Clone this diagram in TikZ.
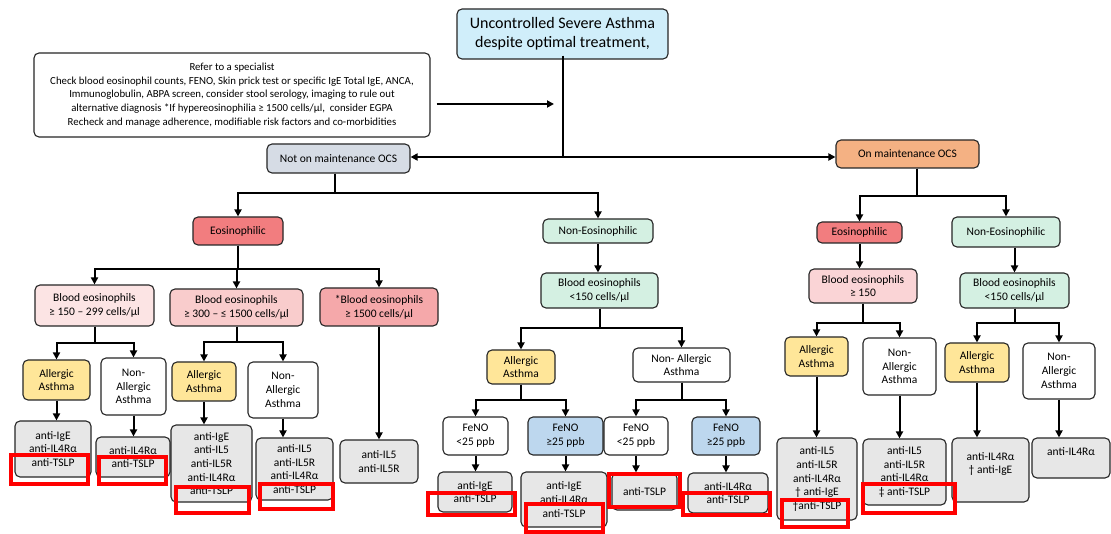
\documentclass[tikz,border=0pt]{standalone}
\usepackage{fontspec}
\setmainfont{Carlito}
\usetikzlibrary{arrows.meta}

\definecolor{topcyan}{RGB}{208,238,250}
\definecolor{ocsgray}{RGB}{214,220,229}
\definecolor{ocsorange}{RGB}{244,177,131}
\definecolor{eosred}{RGB}{242,125,127}
\definecolor{mint}{RGB}{212,240,226}
\definecolor{pinkA}{RGB}{252,228,228}
\definecolor{pinkB}{RGB}{249,204,204}
\definecolor{pinkC}{RGB}{245,168,170}
\definecolor{pinkD}{RGB}{250,212,214}
\definecolor{allergy}{RGB}{255,230,153}
\definecolor{fenoblue}{RGB}{189,215,238}
\definecolor{druggray}{RGB}{231,231,231}

% box given by its corners: name, style, x1, y1, x2, y2, text
\newcommand\bx[7]{%
  \pgfmathsetmacro\bxcx{(#3+#5)/2}%
  \pgfmathsetmacro\bxcy{(#4+#6)/2}%
  \pgfmathsetmacro\bxw{#5-#3}%
  \pgfmathsetmacro\bxh{#6-#4}%
  \node[#2, minimum width=\bxw pt, minimum height=\bxh pt] (#1) at (\bxcx,\bxcy) {#7};}

\tikzset{
  box/.style={draw=black!85, line width=1.1pt, rounded corners=5pt, align=center,
    inner sep=1pt, font=\fontsize{11.5}{13.7}\selectfont},
  whitebox/.style={box, fill=white},
  allergic/.style={box, fill=allergy},
  drug/.style={box, fill=druggray},
  ln/.style={line width=2pt, black},
  arr/.style={ln, -{Triangle[length=7pt,width=7pt]}},
  hl/.style={draw=red, line width=4pt},
}

\begin{document}
\begin{tikzpicture}[x=1pt, y=-1pt]
\fill[white] (0,0) rectangle (1111,534);
\useasboundingbox (0,0) rectangle (1111,534);

% ---- top level ----
\bx{top}{box, fill=topcyan, font=\fontsize{16}{19}\selectfont}{457}{9}{668}{59}
  {Uncontrolled Severe Asthma\\despite optimal treatment,}
\bx{refer}{whitebox, font=\fontsize{10.8}{13.6}\selectfont}{34}{53}{430}{137}
  {Refer to a specialist\\
   Check blood eosinophil counts, FENO, Skin prick test or specific IgE Total IgE, ANCA,\\
   Immunoglobulin, ABPA screen, consider stool serology, imaging to rule out\\
   alternative diagnosis *If hypereosinophilia ≥ 1500 cells/µl,\ \ consider EGPA\\
   Recheck and manage adherence, modifiable risk factors and co-morbidities}
\bx{notOn}{box, fill=ocsgray}{267}{144}{410}{173}{Not on maintenance OCS}
\bx{onOCS}{box, fill=ocsorange}{836}{140}{979}{168}{On maintenance OCS}

% ---- phenotype level ----
\bx{eosL}{box, fill=eosred}{193}{217}{283}{245}{Eosinophilic}
\bx{neosC}{box, fill=mint}{543}{219}{653}{243}{Non-Eosinophilic}
\bx{eosR}{box, fill=eosred}{817}{222}{902}{243}{Eosinophilic}
\bx{neosR}{box, fill=mint}{952}{217}{1060}{247}{Non-Eosinophilic}

% ---- blood eosinophil level ----
\bx{bl1}{box, fill=pinkA}{35}{285}{154}{326}{Blood eosinophils\\≥ 150 – 299 cells/µl}
\bx{bl2}{box, fill=pinkB}{170}{289}{303}{326}{Blood eosinophils\\≥ 300 – ≤ 1500 cells/µl}
\bx{bl3}{box, fill=pinkC}{320}{288}{438}{326}{*Blood eosinophils\\≥ 1500 cells/µl}
\bx{blC}{box, fill=mint}{541}{273}{658}{308}{Blood eosinophils\\<150 cells/µl}
\bx{blR1}{box, fill=pinkD}{809}{269}{917}{303}{Blood eosinophils\\≥ 150}
\bx{blR2}{box, fill=mint}{960}{273}{1069}{308}{Blood eosinophils\\<150 cells/µl}

% ---- allergic / non-allergic level ----
\bx{a1}{allergic}{23}{360}{90}{400}{Allergic\\Asthma}
\bx{n1}{whitebox}{101}{358}{166}{415}{Non-\\Allergic\\Asthma}
\bx{a2}{allergic}{172}{362}{236}{401}{Allergic\\Asthma}
\bx{n2}{whitebox}{248}{362}{318}{418}{Non-\\Allergic\\Asthma}
\bx{aC}{allergic}{487}{350}{555}{384}{Allergic\\Asthma}
\bx{nC}{whitebox}{633}{348}{730}{382}{Non- Allergic\\Asthma}
\bx{aR1}{allergic}{785}{337}{848}{376}{Allergic\\Asthma}
\bx{nR1}{whitebox}{863}{338}{936}{395}{Non-\\Allergic\\Asthma}
\bx{aR2}{allergic}{945}{343}{1009}{382}{Allergic\\Asthma}
\bx{nR2}{whitebox}{1023}{343}{1095}{399}{Non-\\Allergic\\Asthma}

% ---- FeNO level ----
\bx{f1}{whitebox}{443}{417}{508}{455}{FeNO\\<25 ppb}
\bx{f2}{box, fill=fenoblue}{528}{417}{603}{455}{FeNO\\≥25 ppb}
\bx{f3}{whitebox}{604}{417}{668}{455}{FeNO\\<25 ppb}
\bx{f4}{box, fill=fenoblue}{692}{417}{760}{455}{FeNO\\≥25 ppb}

% ---- biologics ----
\bx{dA1}{drug}{15}{421}{91}{477}{anti-IgE\\anti-IL4Rα\\anti-TSLP}
\bx{dN1}{drug}{96}{437}{170}{477}{anti-IL4Rα\\anti-TSLP}
\bx{dA2}{drug}{171}{425}{252}{502}{anti-IgE\\anti-IL5\\anti-IL5R\\anti-IL4Rα\\anti-TSLP}
\bx{dN2}{drug}{256}{438}{333}{500}{anti-IL5\\anti-IL5R\\anti-IL4Rα\\anti-TSLP}
\bx{dE3}{drug}{340}{440}{418}{483}{anti-IL5\\anti-IL5R}
\bx{dF1}{drug}{438}{472}{512}{512}{anti-IgE\\anti-TSLP}
\bx{dF2}{drug}{521}{472}{607}{527}{anti-IgE\\anti-IL4Rα\\anti-TSLP}
\bx{dF3}{drug}{612}{473}{677}{510}{anti-TSLP}
\bx{dF4}{drug}{688}{473}{768}{513}{anti-IL4Rα\\anti-TSLP}
\bx{dR1}{drug}{777}{438}{857}{520}{anti-IL5\\anti-IL5R\\anti-IL4Rα\\† anti-IgE\\†anti-TSLP}
\bx{dR2}{drug}{863}{439}{946}{505}{anti-IL5\\anti-IL5R\\anti-IL4Rα\\‡ anti-TSLP}
\bx{dR3}{drug}{952}{438}{1029}{502}{anti-IL4Rα\\† anti-IgE\\~}
\bx{dR4}{drug}{1032}{438}{1110}{478}{anti-IL4Rα\\~}

% ---- connectors ----
\coordinate (rj) at (554,104);
\coordinate (split) at (563,157);
\draw[arr] ([xshift=6pt]refer.east |- rj) -- (rj);
\draw[ln] ([yshift=4pt]split |- top.south) -- (split);
\draw[arr] (split) -- (split -| notOn.east);
\draw[arr] (split) -- (split -| onOCS.west);

\draw[arr] ([xshift=-4pt]notOn.south) -- ++(0,19) -| (eosL.north);
\draw[arr] ([xshift=-4pt]notOn.south) -- ++(0,19) -| (neosC.north);

\draw[arr] (eosL.south) -- ++(0,23) -| (bl1.north);
\draw[arr] (eosL.south) -- ++(0,23) -| (bl2.north);
\draw[arr] (eosL.south) -- ++(0,23) -| (bl3.north);

\draw[arr] (neosC.south) -- (neosC.south |- blC.north);
\draw[arr] (blC.south) -- ++(0,19) -| (aC.north);
\draw[arr] (blC.south) -- ++(0,19) -| (nC.north);

\draw[arr] ([xshift=9pt]onOCS.south) -- ++(0,27) -| (eosR.north);
\draw[arr] ([xshift=9pt]onOCS.south) -- ++(0,27) -| (neosR.north);
\draw[arr] (eosR.south) -- (eosR.south |- blR1.north);
\draw[arr] (blR2.north |- neosR.south) -- (blR2.north);

\draw[arr] (bl1.south) -- ++(0,16) -| (a1.north);
\draw[arr] (bl1.south) -- ++(0,16) -| (n1.north);
\draw[arr] (bl2.south) -- ++(0,15) -| (a2.north);
\draw[arr] (bl2.south) -- ++(0,15) -| (n2.north);
\draw[arr] (bl3.south) -- (bl3.south |- dE3.north);
\draw[arr] (blR1.south) -- ++(0,19) -| (aR1.north);
\draw[arr] (blR1.south) -- ++(0,19) -| (nR1.north);
\draw[arr] (blR2.south) -- ++(0,14) -| (aR2.north);
\draw[arr] (blR2.south) -- ++(0,14) -| (nR2.north);

\draw[arr] (aC.south) -- ++(0,15) -| (f1.north);
\draw[arr] (aC.south) -- ++(0,15) -| (f2.north);
\draw[arr] (nC.south) -- ++(0,17) -| (f3.north);
\draw[arr] (nC.south) -- ++(0,17) -| (f4.north);

\foreach \s/\t in {a1/dA1, n1/dN1, a2/dA2, n2/dN2, f1/dF1, f2/dF2, f3/dF3, f4/dF4,
                   aR1/dR1, nR1/dR2, aR2/dR3, nR2/dR4}
  \draw[arr] (\s.south) -- (\s.south |- \t.north);

% ---- red highlight frames ----
\draw[hl] (11,455) rectangle (88,484);
\draw[hl] (99,457) rectangle (166,484);
\draw[hl] (176,487) rectangle (249,513);
\draw[hl] (260,484) rectangle (333,509);
\draw[hl] (428,493) rectangle (515,515);
\draw[hl] (526,504) rectangle (603,532);
\draw[hl] (609,474) rectangle (680,507);
\draw[hl] (683,493) rectangle (770,515);
\draw[hl] (782,500) rectangle (848,527);
\draw[hl] (863,484) rectangle (955,513);
\end{tikzpicture}
\end{document}
